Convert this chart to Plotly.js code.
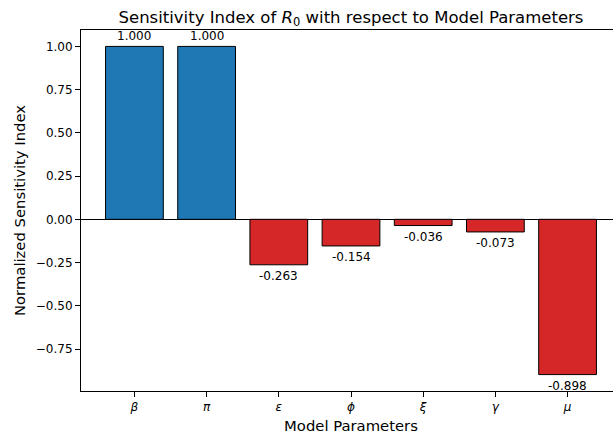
<!DOCTYPE html>
<html>
<head>
<meta charset="utf-8">
<script src="https://cdn.plot.ly/plotly-3.0.1.min.js"></script>
<style>
  html, body { margin: 0; padding: 0; overflow: hidden; background: #fff; }
  #chart { width: 640px; height: 437px; }
</style>
</head>
<body>
<div id="chart"></div>
<script>
// Sensitivity indices of R0, one per model parameter
const params = ['β', 'π', 'ε', 'ϕ', 'ξ', 'γ', 'μ'];
const sensitivity = [1.000, 1.000, -0.263, -0.154, -0.036, -0.073, -0.898];
const valueLabels = ['1.000', '1.000', '-0.263', '-0.154', '-0.036', '-0.073', '-0.898'];
const yTicks = [1.00, 0.75, 0.50, 0.25, 0.00, -0.25, -0.50, -0.75];

const xIdx = params.map((_, i) => i);
const colors = sensitivity.map(v => v >= 0 ? '#1f77b4' : '#d62728');
const font = 'DejaVu Sans, sans-serif';

const bars = {
  type: 'bar',
  x: xIdx,
  y: sensitivity,
  width: 0.8,
  marker: { color: colors, line: { color: '#000', width: 1 } },
  hoverinfo: 'skip'
};

// value labels above positive bars, below negative ones
const annotations = sensitivity.map((v, i) => ({
  x: i, y: v, xref: 'x', yref: 'y',
  text: valueLabels[i],
  showarrow: false,
  yanchor: v >= 0 ? 'bottom' : 'top',
  yshift: v >= 0 ? 1 : -2,
  font: { family: font, size: 12, color: '#000' }
}));

const pad = 0.05 * (sensitivity.length - 1 + 0.8);
const ymin = Math.min(...sensitivity), ymax = Math.max(...sensitivity);
const ypad = 0.05 * (ymax - ymin);

const layout = {
  width: 640, height: 437,
  margin: { l: 81, r: 19, t: 30, b: 46 },
  paper_bgcolor: '#fff', plot_bgcolor: '#fff',
  font: { family: font, size: 12, color: '#000' },
  showlegend: false,
  title: {
    text: 'Sensitivity Index of <i>R</i><sub>0</sub> with respect to Model Parameters',
    font: { family: font, size: 16.5, color: '#000' },
    x: 0.5, xref: 'paper', xanchor: 'center',
    y: 1 - 17 / 437, yref: 'container', yanchor: 'middle'
  },
  xaxis: {
    range: [-0.4 - pad, sensitivity.length - 1 + 0.4 + pad],
    tickmode: 'array', tickvals: xIdx,
    ticktext: params.map(p => '<i>' + p + '</i>'),
    ticks: 'outside', ticklen: 5, tickwidth: 1, tickcolor: '#000',
    showgrid: false, zeroline: false,
    showline: true, linecolor: '#000', linewidth: 1, mirror: true,
    tickfont: { family: font, size: 12 },
    title: { text: 'Model Parameters', font: { family: font, size: 14.8 }, standoff: 7 }
  },
  yaxis: {
    range: [ymin - ypad, ymax + ypad],
    tickmode: 'array', tickvals: yTicks,
    ticktext: yTicks.map(t => t.toFixed(2).replace('-', '−')),
    ticks: 'outside', ticklen: 5, tickwidth: 1, tickcolor: '#000',
    showgrid: false, zeroline: true, zerolinecolor: '#000', zerolinewidth: 1,
    showline: true, linecolor: '#000', linewidth: 1, mirror: true,
    tickfont: { family: font, size: 12 },
    title: { text: 'Normalized Sensitivity Index', font: { family: font, size: 14.8 }, standoff: 6 }
  },
  annotations: annotations
};

Plotly.newPlot('chart', [bars], layout, { displayModeBar: false, staticPlot: true });
</script>
</body>
</html>
